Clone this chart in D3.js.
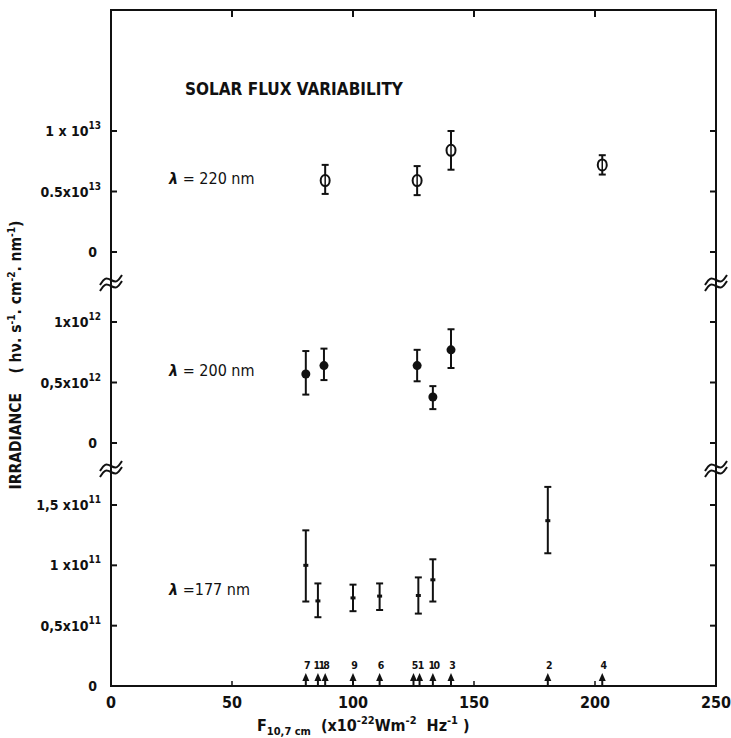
<!DOCTYPE html>
<html>
<head>
<meta charset="utf-8">
<script src="https://cdn.jsdelivr.net/npm/d3@7"></script>
<style>
  body { margin: 0; background: #fff; }
  svg { display: block; font-family: "DejaVu Sans Condensed", "DejaVu Sans", sans-serif; }
  text { white-space: pre; }
</style>
</head>
<body>
<svg id="chart" width="731" height="738"></svg>
<script>
// F10.7 flux of the observation days (numbered arrows on the x axis)
const dayIds = ['7', '11', '8', '9', '6', '5', '1', '10', '3', '2', '4'];
const dayFlux = [80.5, 85.5, 88.5, 100, 111, 125, 127.5, 133, 140.5, 180.5, 203];

// lambda = 220 nm, units of 1e13
const flux220 = [88.5, 126.5, 140.5, 203];
const val220 = [0.59, 0.59, 0.84, 0.72];
const lo220 = [0.48, 0.47, 0.68, 0.64];
const hi220 = [0.72, 0.71, 1.0, 0.80];

// lambda = 200 nm, units of 1e12
const flux200 = [80.5, 88, 126.5, 133, 140.5];
const val200 = [0.57, 0.64, 0.64, 0.38, 0.77];
const lo200 = [0.40, 0.52, 0.51, 0.28, 0.62];
const hi200 = [0.76, 0.78, 0.77, 0.47, 0.94];

// lambda = 177 nm, units of 1e11
const flux177 = [80.5, 85.5, 100, 111, 127, 133, 180.5];
const val177 = [1.0, 0.705, 0.73, 0.745, 0.75, 0.88, 1.37];
const lo177 = [0.70, 0.57, 0.62, 0.63, 0.60, 0.70, 1.10];
const hi177 = [1.29, 0.85, 0.84, 0.85, 0.90, 1.05, 1.65];

const xTicks = [0, 50, 100, 150, 200, 250];
const ticks220 = [0, 0.5, 1];
const tickText220 = ['0', '0.5x10', '1 x 10'];
const ticks200 = [0, 0.5, 1];
const tickText200 = ['0', '0,5x10', '1x10'];
const ticks177 = [0, 0.5, 1, 1.5];
const tickText177 = ['0', '0,5x10', '1 x10', '1,5 x10'];

const svg = d3.select('#chart');
const frameL = 111, frameR = 716, frameT = 10, frameB = 686;

const x = d3.scaleLinear().domain([0, 250]).range([frameL, frameR]);

const panels = [
  { y: d3.scaleLinear().domain([0, 1]).range([252, 131]), ticks: ticks220, text: tickText220, exp: '13',
    flux: flux220, val: val220, lo: lo220, hi: hi220, mark: 'open', label: ' = 220 nm', labelY: 178 },
  { y: d3.scaleLinear().domain([0, 1]).range([443, 322]), ticks: ticks200, text: tickText200, exp: '12',
    flux: flux200, val: val200, lo: lo200, hi: hi200, mark: 'filled', label: ' = 200 nm', labelY: 370 },
  { y: d3.scaleLinear().domain([0, 1.5]).range([686, 505]), ticks: ticks177, text: tickText177, exp: '11',
    flux: flux177, val: val177, lo: lo177, hi: hi177, mark: 'bar', label: ' =177 nm', labelY: 589 }
];

const ink = '#111';

// frame
svg.append('rect')
  .attr('x', frameL).attr('y', frameT)
  .attr('width', frameR - frameL).attr('height', frameB - frameT)
  .attr('fill', 'none').attr('stroke', ink).attr('stroke-width', 2);

// x ticks on bottom (inward) and top (inward)
xTicks.slice(1, -1).forEach(t => {
  svg.append('line').attr('x1', x(t)).attr('x2', x(t)).attr('y1', frameB).attr('y2', frameB - 5)
    .attr('stroke', ink).attr('stroke-width', 1.5);
  svg.append('line').attr('x1', x(t)).attr('x2', x(t)).attr('y1', frameT).attr('y2', frameT + 7)
    .attr('stroke', ink).attr('stroke-width', 2);
});

svg.append('g').selectAll('text').data(xTicks).join('text')
  .attr('x', d => x(d)).attr('y', 708)
  .attr('text-anchor', 'middle')
  .attr('font-size', 16).attr('font-weight', 'bold')
  .attr('fill', ink)
  .text(d => d);

// panels
panels.forEach(p => {
  p.ticks.forEach((t, i) => {
    const yy = p.y(t);
    svg.append('line').attr('x1', frameL).attr('x2', frameL + 6).attr('y1', yy).attr('y2', yy)
      .attr('stroke', ink).attr('stroke-width', 2);
    svg.append('line').attr('x1', frameR).attr('x2', frameR - 6).attr('y1', yy).attr('y2', yy)
      .attr('stroke', ink).attr('stroke-width', 2);
    const lab = svg.append('text')
      .attr('x', t === 0 ? 97 : 101).attr('y', yy + 5)
      .attr('text-anchor', 'end')
      .attr('font-size', 14).attr('font-weight', 'bold').attr('fill', ink);
    lab.append('tspan').text(p.text[i]);
    if (t !== 0) {
      lab.append('tspan').attr('dy', -7).attr('font-size', 10).text(p.exp);
    }
  });

  // lambda label
  const lt = svg.append('text')
    .attr('x', 169).attr('y', p.labelY + 6)
    .attr('font-size', 16).attr('fill', ink);
  lt.append('tspan').attr('font-style', 'italic').attr('font-weight', 'bold').text('λ');
  lt.append('tspan').text(p.label);

  const g = svg.append('g');
  p.flux.forEach((f, i) => {
    const cx = x(f);
    g.append('line').attr('x1', cx).attr('x2', cx)
      .attr('y1', p.y(p.lo[i])).attr('y2', p.y(p.hi[i]))
      .attr('stroke', ink).attr('stroke-width', 2);
    [p.lo[i], p.hi[i]].forEach(v => {
      g.append('line').attr('x1', cx - 3.5).attr('x2', cx + 3.5)
        .attr('y1', p.y(v)).attr('y2', p.y(v))
        .attr('stroke', ink).attr('stroke-width', 2);
    });
    const cy = p.y(p.val[i]);
    if (p.mark === 'open') {
      g.append('ellipse').attr('cx', cx).attr('cy', cy).attr('rx', 4.5).attr('ry', 5.5)
        .attr('fill', '#fff').attr('stroke', ink).attr('stroke-width', 2);
      g.append('line').attr('x1', cx).attr('x2', cx).attr('y1', cy - 6).attr('y2', cy + 6)
        .attr('stroke', ink).attr('stroke-width', 1.5);
    } else if (p.mark === 'filled') {
      g.append('circle').attr('cx', cx).attr('cy', cy).attr('r', 4.5).attr('fill', ink);
    } else {
      g.append('line').attr('x1', cx - 2.5).attr('x2', cx + 2.5).attr('y1', cy).attr('y2', cy)
        .attr('stroke', ink).attr('stroke-width', 3);
    }
  });
});

// axis breaks (double wavy marks)
const wave = d3.line().curve(d3.curveBasis);
[283, 469].forEach(by => {
  [frameL, frameR].forEach(bx => {
    [-3, 3].forEach(off => {
      svg.append('path')
        .attr('d', wave([[bx - 11, by + off + 5], [bx - 6, by + off - 3], [bx, by + off], [bx + 6, by + off + 3], [bx + 11, by + off - 5]]))
        .attr('fill', 'none').attr('stroke', ink).attr('stroke-width', 2);
    });
  });
});

// observation days arrows
const days = svg.append('g');
dayFlux.forEach((f, i) => {
  const cx = x(f);
  days.append('line').attr('x1', cx).attr('x2', cx).attr('y1', frameB).attr('y2', 678)
    .attr('stroke', ink).attr('stroke-width', 2);
  days.append('path')
    .attr('d', `M${cx - 3.5},${681} L${cx},${673} L${cx + 3.5},${681} Z`)
    .attr('fill', ink);
  days.append('text').attr('x', cx + 0.7).attr('y', 669)
    .attr('text-anchor', 'middle').attr('font-size', 10.5).attr('font-weight', 'bold')
    .attr('letter-spacing', -1.5)
    .attr('fill', ink)
    .text(dayIds[i]);
});

// title
svg.append('text').attr('x', 185).attr('y', 95)
  .attr('font-size', 17).attr('font-weight', 'bold').attr('fill', ink)
  .text('SOLAR FLUX VARIABILITY');

// y axis title
const yt = svg.append('text')
  .attr('transform', 'translate(21,355) rotate(-90)')
  .attr('text-anchor', 'middle')
  .attr('font-size', 15.5).attr('font-weight', 'bold').attr('fill', ink);
yt.append('tspan').text('IRRADIANCE    ( hν. s');
yt.append('tspan').attr('dy', -6).attr('font-size', 10).text('-1');
yt.append('tspan').attr('dy', 6).text('. cm');
yt.append('tspan').attr('dy', -6).attr('font-size', 10).text('-2');
yt.append('tspan').attr('dy', 6).text('. nm');
yt.append('tspan').attr('dy', -6).attr('font-size', 10).text('-1');
yt.append('tspan').attr('dy', 6).text(')');

// x axis title
const xt = svg.append('text')
  .attr('x', 257).attr('y', 731)
  .attr('font-size', 16).attr('font-weight', 'bold').attr('fill', ink);
xt.append('tspan').text('F');
xt.append('tspan').attr('dy', 4).attr('font-size', 11).text('10,7 cm');
xt.append('tspan').attr('dy', -4).text('  (x10');
xt.append('tspan').attr('dy', -7).attr('font-size', 11).text('-22');
xt.append('tspan').attr('dy', 7).text('Wm');
xt.append('tspan').attr('dy', -7).attr('font-size', 11).text('-2');
xt.append('tspan').attr('dy', 7).text('  Hz');
xt.append('tspan').attr('dy', -7).attr('font-size', 11).text('-1');
xt.append('tspan').attr('dy', 7).text(' )');
</script>
</body>
</html>
